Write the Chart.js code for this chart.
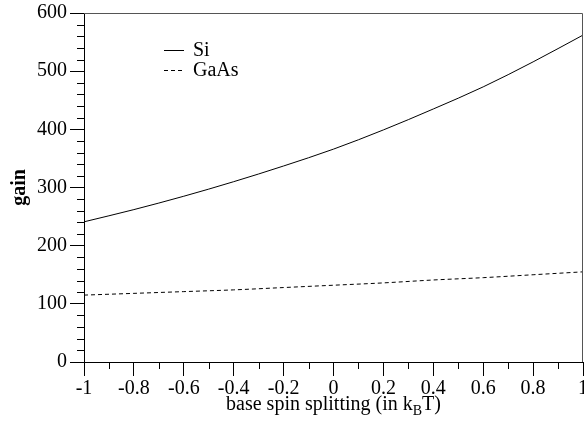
<!DOCTYPE html>
<html>
<head>
<meta charset="utf-8">
<script src="https://cdn.jsdelivr.net/npm/chart.js@4.4.1/dist/chart.umd.min.js"></script>
<style>
  html, body { margin: 0; padding: 0; background: #fff; }
  #wrap { width: 584px; height: 426px; }
</style>
</head>
<body>
<div id="wrap"><canvas id="myChart"></canvas></div>
<script>
// data
const splitting = [-1, -0.8, -0.6, -0.4, -0.2, 0, 0.2, 0.4, 0.6, 0.8, 1];
const siGain = [241, 262, 285, 310, 337, 366, 399, 435, 473, 516, 562];
const gaasGain = [115, 118, 121, 124, 128, 132, 136, 141, 145, 150, 155];
const yTicks = [0, 100, 200, 300, 400, 500, 600];

const serif = "'Liberation Serif', 'DejaVu Serif', serif";
const fs = 20;

function pts(xs, ys) {
    return xs.map((x, i) => ({ x: x, y: ys[i] }));
}

// minor ticks, top/right frame, legend and the x title with subscript
const extras = {
    id: 'extras',
    afterDraw(chart) {
        const c = chart.ctx;
        const xs = chart.scales.x, ys = chart.scales.y;
        const a = chart.chartArea;
        c.save();
        c.strokeStyle = '#000';
        c.lineWidth = 1;
        c.beginPath();
        for (let v = 0; v <= 600; v += 20) {
            if (v % 100 === 0) continue;
            const py = Math.round(ys.getPixelForValue(v)) + 0.5;
            c.moveTo(a.left - 7, py);
            c.lineTo(a.left, py);
        }
        for (let k = -9; k <= 9; k += 2) {
            const px = Math.round(xs.getPixelForValue(k / 10)) + 0.5;
            c.moveTo(px, a.bottom);
            c.lineTo(px, a.bottom + 7);
        }
        c.stroke();

        // frame top and right
        c.strokeStyle = '#555';
        c.beginPath();
        c.moveTo(a.left, Math.round(a.top) + 0.5);
        c.lineTo(Math.round(a.right) - 0.5, Math.round(a.top) + 0.5);
        c.lineTo(Math.round(a.right) - 0.5, a.bottom);
        c.stroke();

        // legend
        c.font = fs + 'px ' + serif;
        c.textBaseline = 'middle';
        c.fillStyle = '#000';
        chart.data.datasets.forEach((ds, i) => {
            const ly = 50 + i * 20 + 0.5;
            c.strokeStyle = '#000';
            c.setLineDash(ds.borderDash || []);
            c.beginPath();
            c.moveTo(164, ly);
            c.lineTo(184, ly);
            c.stroke();
            c.setLineDash([]);
            c.fillText(ds.label, 193, ly);
        });

        // x axis title: base spin splitting (in k_B T)
        const t1 = 'base spin splitting (in k', sub = 'B', t2 = 'T)';
        c.font = fs + 'px ' + serif;
        const w1 = c.measureText(t1).width, w3 = c.measureText(t2).width;
        c.font = '14px ' + serif;
        const w2 = c.measureText(sub).width;
        let x0 = (a.left + a.right) / 2 - (w1 + w2 + w3) / 2;
        const ty = 405;
        c.textAlign = 'left';
        c.font = fs + 'px ' + serif;
        c.fillText(t1, x0, ty);
        c.font = '14px ' + serif;
        c.fillText(sub, x0 + w1, ty + 6);
        c.font = fs + 'px ' + serif;
        c.fillText(t2, x0 + w1 + w2, ty);
        c.restore();
    }
};

const ctx = document.getElementById('myChart').getContext('2d');
var myChart = new Chart(ctx, {
    type: 'line',
    data: {
        datasets: [{
            label: 'Si',
            data: pts(splitting, siGain),
            borderColor: '#000',
            borderWidth: 1,
            pointRadius: 0,
            cubicInterpolationMode: 'monotone',
            fill: false
        }, {
            label: 'GaAs',
            data: pts(splitting, gaasGain),
            borderColor: '#000',
            borderWidth: 1,
            borderDash: [4, 3],
            pointRadius: 0,
            cubicInterpolationMode: 'monotone',
            fill: false
        }]
    },
    options: {
        responsive: true,
        maintainAspectRatio: false,
        animation: false,
        layout: { padding: { top: 13, right: 1, left: 0, bottom: 0 } },
        plugins: {
            legend: { display: false },
            tooltip: { enabled: false }
        },
        scales: {
            x: {
                type: 'linear',
                min: -1,
                max: 1,
                afterBuildTicks: (s) => { s.ticks = splitting.map(v => ({ value: v })); },
                afterFit: (s) => { s.height = 64; s.paddingRight = 0; s.paddingLeft = 0; },
                grid: { drawOnChartArea: false, tickLength: 14, color: '#000' },
                border: { color: '#000', width: 1 },
                ticks: {
                    color: '#000',
                    padding: 1,
                    maxRotation: 0,
                    font: { family: serif, size: fs },
                    callback: (v) => String(parseFloat(Number(v).toFixed(1)))
                }
            },
            y: {
                min: 0,
                max: 600,
                afterBuildTicks: (s) => { s.ticks = yTicks.map(v => ({ value: v })); },
                afterFit: (s) => { s.width = 84; s.paddingTop = 0; s.paddingBottom = 0; },
                grid: { drawOnChartArea: false, tickLength: 14, color: '#000' },
                border: { color: '#000', width: 1 },
                title: {
                    display: true,
                    text: 'gain',
                    color: '#000',
                    padding: { top: 8, bottom: 0 },
                    font: { family: serif, size: fs, weight: 'bold' }
                },
                ticks: {
                    color: '#000',
                    padding: 3,
                    font: { family: serif, size: fs }
                }
            }
        }
    },
    plugins: [extras]
});
</script>
</body>
</html>
